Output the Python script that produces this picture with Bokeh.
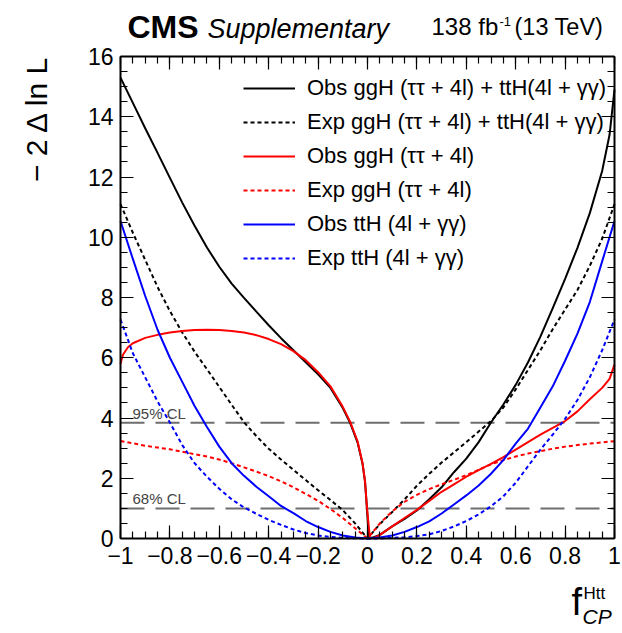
import numpy as np
from bokeh.plotting import figure
from bokeh.models import Range1d, LinearAxis, FixedTicker, Label, Legend, LegendItem
from bokeh.embed import file_html
from bokeh.resources import INLINE

# ---------------- data ----------------
xs = [-1.0, -0.95, -0.9, -0.85, -0.8, -0.75, -0.7, -0.65, -0.6, -0.55, -0.5,
      -0.45, -0.4, -0.35, -0.3, -0.25, -0.2, -0.15, -0.1, -0.05, 0.0,
      0.05, 0.1, 0.15, 0.2, 0.25, 0.3, 0.35, 0.4, 0.45, 0.5,
      0.55, 0.6, 0.65, 0.7, 0.75, 0.8, 0.85, 0.9, 0.95, 1.0]

exp_comb_y = [11.1, 10.15, 9.25, 8.35, 7.55, 6.84, 6.2, 5.62, 5.03, 4.44, 3.86,
              3.4, 2.98, 2.62, 2.28, 1.94, 1.6, 1.28, 0.94, 0.5, 0.0,
              0.48, 0.88, 1.3, 1.75, 2.15, 2.52, 2.86, 3.2, 3.55, 3.9,
              4.35, 4.95, 5.6, 6.25, 6.95, 7.6, 8.25, 9.05, 9.95, 11.1]

exp_ggh_y = [3.24, 3.16, 3.08, 3.02, 2.96, 2.88, 2.8, 2.72, 2.62, 2.5, 2.36,
             2.22, 2.07, 1.9, 1.7, 1.48, 1.25, 0.98, 0.68, 0.34, 0.0,
             0.5, 0.9, 1.22, 1.45, 1.64, 1.8, 1.95, 2.1, 2.28, 2.46,
             2.6, 2.72, 2.82, 2.9, 2.98, 3.05, 3.1, 3.15, 3.19, 3.23]

obs_tth_y = [10.54, 9.28, 8.05, 6.93, 6.0, 5.2, 4.4, 3.7, 3.05, 2.5, 2.08,
             1.72, 1.4, 1.08, 0.84, 0.58, 0.38, 0.22, 0.1, 0.03, 0.0,
             0.03, 0.1, 0.22, 0.38, 0.57, 0.83, 1.13, 1.43, 1.76, 2.15,
             2.6, 3.15, 3.65, 4.35, 5.05, 5.9, 6.8, 7.85, 9.2, 10.54]

exp_tth_y = [7.27, 6.15, 5.35, 4.55, 3.85, 3.1, 2.5, 2.05, 1.65, 1.3, 1.03,
             0.82, 0.62, 0.45, 0.3, 0.18, 0.1, 0.05, 0.02, 0.005, 0.0,
             0.0, 0.02, 0.04, 0.08, 0.14, 0.25, 0.4, 0.58, 0.8, 1.07,
             1.4, 1.85, 2.4, 2.95, 3.45, 3.97, 4.6, 5.35, 6.25, 7.27]

obs_comb_x = [-1.0, -0.95, -0.9, -0.85, -0.8, -0.75, -0.7, -0.65, -0.6, -0.55, -0.5,
              -0.45, -0.4, -0.35, -0.3, -0.25, -0.2, -0.15, -0.1, -0.07, -0.04,
              -0.02, -0.01, -0.003, 0.005, 0.02, 0.05, 0.1, 0.15, 0.2, 0.25,
              0.3, 0.35, 0.4, 0.45, 0.5, 0.55, 0.6, 0.65, 0.7, 0.75,
              0.8, 0.85, 0.9, 0.95, 0.98, 1.0]
obs_comb_y = [15.3, 14.46, 13.62, 12.8, 11.97, 11.15, 10.38, 9.66, 9.02, 8.46, 7.99,
              7.53, 7.08, 6.65, 6.25, 5.85, 5.45, 5.0, 4.33, 3.83, 3.18,
              2.48, 1.88, 1.1, 0.0, 0.03, 0.12, 0.4, 0.65, 0.93, 1.3,
              1.7, 2.2, 2.65, 3.2, 3.85, 4.45, 5.1, 5.85, 6.7, 7.65,
              8.62, 9.65, 10.8, 12.2, 13.4, 14.9]

obs_ggh_x = [-1.0, -0.99, -0.97, -0.95, -0.9, -0.85, -0.8, -0.75, -0.7, -0.65, -0.6,
             -0.55, -0.5, -0.45, -0.4, -0.35, -0.3, -0.25, -0.2, -0.15, -0.1,
             -0.07, -0.04, -0.02, -0.01, -0.003, 0.01, 0.03, 0.05, 0.1, 0.15,
             0.2, 0.25, 0.3, 0.35, 0.4, 0.45, 0.5, 0.55, 0.6, 0.65,
             0.7, 0.75, 0.8, 0.85, 0.9, 0.95, 0.98, 1.0]
obs_ggh_y = [5.8, 6.1, 6.35, 6.48, 6.66, 6.76, 6.84, 6.89, 6.92, 6.93, 6.92,
             6.89, 6.84, 6.75, 6.62, 6.45, 6.22, 5.92, 5.52, 5.05, 4.37,
             3.87, 3.22, 2.5, 1.9, 1.1, 0.0, 0.03, 0.12, 0.4, 0.68,
             0.95, 1.25, 1.55, 1.8, 2.05, 2.27, 2.48, 2.7, 2.95, 3.2,
             3.45, 3.67, 3.9, 4.22, 4.62, 5.0, 5.3, 5.77]

cl_levels = [1.0, 3.84]
cl_labels = ["68% CL", "95% CL"]

legend_labels = ["Obs ggH (\u03c4\u03c4 + 4l) + ttH(4l + \u03b3\u03b3)",
                 "Exp ggH (\u03c4\u03c4 + 4l) + ttH(4l + \u03b3\u03b3)",
                 "Obs ggH (\u03c4\u03c4 + 4l)",
                 "Exp ggH (\u03c4\u03c4 + 4l)",
                 "Obs ttH (4l + \u03b3\u03b3)",
                 "Exp ttH (4l + \u03b3\u03b3)"]

x_ticks = [-1.0, -0.8, -0.6, -0.4, -0.2, 0.0, 0.2, 0.4, 0.6, 0.8, 1.0]
x_tick_labels = ["\u22121", "\u22120.8", "\u22120.6", "\u22120.4", "\u22120.2", "0",
                 "0.2", "0.4", "0.6", "0.8", "1"]
y_ticks = [0, 2, 4, 6, 8, 10, 12, 14, 16]
y_tick_labels = ["0", "2", "4", "6", "8", "10", "12", "14", "16"]

# ---------------- layout geometry (canvas pixels) ----------------
FONT = "Liberation Sans"
W, H = 622, 633
FL, FR, FT, FB = 120, 614, 56, 538          # plot box edges in canvas px
XMIN, XMAX, YMIN, YMAX = x_ticks[0], x_ticks[-1], y_ticks[0], y_ticks[-1]
sx = (FR - FL) / (XMAX - XMIN)
sy = (FB - FT) / (YMAX - YMIN)

# the frame covers the whole canvas; ranges chosen so that the box sits at FL..FR, FT..FB
p = figure(width=W, height=H,
           x_range=Range1d(XMIN - FL / sx, XMAX + (W - FR) / sx),
           y_range=Range1d(YMIN - (H - FB) / sy, YMAX + FT / sy),
           output_backend="svg", toolbar_location=None,
           min_border_left=0, min_border_right=0, min_border_top=0, min_border_bottom=0)
p.title.visible = False
p.xgrid.visible = False
p.ygrid.visible = False
p.outline_line_color = None
p.background_fill_color = "white"
p.border_fill_color = "white"


def px2x(px):
    return XMIN + (px - FL) / sx


def px2y(py):
    return YMIN + (FB - py) / sy


x_minor = list(np.round(np.arange(XMIN, XMAX + 1e-4, 0.05), 3))
y_minor = list(np.arange(YMIN, YMAX + 1e-4, 0.5))


def style(ax, ticks, minor, labels, show, loc, bounds):
    ax.fixed_location = loc
    ax.bounds = bounds
    ax.ticker = FixedTicker(ticks=ticks, minor_ticks=minor)
    ax.major_tick_in = 13
    ax.major_tick_out = 0
    ax.minor_tick_in = 7
    ax.minor_tick_out = 0
    ax.major_tick_line_color = "black"
    ax.minor_tick_line_color = "black"
    ax.major_tick_line_width = 1.2
    ax.minor_tick_line_width = 1.2
    ax.axis_line_color = "black"
    ax.axis_line_width = 2
    if show:
        ax.major_label_overrides = {t: l for t, l in zip(ticks, labels)}
        ax.major_label_text_font = FONT
        ax.major_label_text_color = "black"
        ax.major_label_text_font_size = "23px"
    else:
        ax.major_label_text_font_size = "0px"
        ax.major_label_text_alpha = 0


xa = p.xaxis[0]
ya = p.yaxis[0]
style(xa, x_ticks, x_minor, x_tick_labels, True, YMIN, (XMIN, XMAX))
xa.major_label_standoff = 8
style(ya, y_ticks, y_minor, y_tick_labels, True, XMIN, (YMIN, YMAX))
ya.major_label_standoff = 7

top = LinearAxis()
style(top, x_ticks, x_minor, x_tick_labels, False, YMAX, (XMIN, XMAX))
p.add_layout(top, "above")
right = LinearAxis()
style(right, y_ticks, y_minor, y_tick_labels, False, XMAX, (YMIN, YMAX))
p.add_layout(right, "right")

# CL reference lines
p.segment(x0=XMIN, x1=XMAX, y0=cl_levels, y1=cl_levels, line_color="#6e6e6e",
          line_width=2, line_dash="24 11")
for lev, lab in zip(cl_levels, cl_labels):
    p.add_layout(Label(x=px2x(132), y=lev, y_offset=1, text=lab, text_font=FONT,
                       text_font_size="15px", text_color="#444444",
                       text_baseline="bottom", text_align="left"))

# curves
r1 = p.line(obs_comb_x, obs_comb_y, line_color="black", line_width=2)
r2 = p.line(xs, exp_comb_y, line_color="black", line_width=2, line_dash="4 3")
r3 = p.line(obs_ggh_x, obs_ggh_y, line_color="#ff0000", line_width=2)
r4 = p.line(xs, exp_ggh_y, line_color="#ff0000", line_width=2, line_dash="4 3")
r5 = p.line(xs, obs_tth_y, line_color="#0000ff", line_width=2)
r6 = p.line(xs, exp_tth_y, line_color="#0000ff", line_width=2, line_dash="4 3")

items = [LegendItem(label=l, renderers=[r]) for l, r in zip(legend_labels, [r1, r2, r3, r4, r5, r6])]
leg = Legend(items=items, location=(243, 362), label_text_font=FONT, label_text_font_size="22px",
             label_text_color="black", glyph_width=52, glyph_height=22, label_height=22,
             spacing=8, label_standoff=12, padding=0, margin=0,
             border_line_alpha=0, background_fill_alpha=0)
p.add_layout(leg)


def tlabel(px, py, text, size, style="normal", align="left", angle=0.0, baseline="alphabetic"):
    # py is the wanted baseline in canvas px; the renderer draws about a third of the size lower
    if baseline == "alphabetic":
        py = py - 0.33 * size
    p.add_layout(Label(x=px2x(px), y=px2y(py), text=text, text_font=FONT,
                       text_font_size=f"{size}px", text_font_style=style, text_align=align,
                       text_baseline=baseline, angle=angle, text_color="black"))


tlabel(127, 37, "CMS", 32, "bold")
tlabel(207, 37, "Supplementary", 27, "italic")
tlabel(431, 34, "138 fb", 24)
tlabel(499, 25, "-1", 13)
tlabel(514, 34, "(13 TeV)", 23.5)
tlabel(36, 54, "\u2212 2 \u0394 ln L", 30, align="right", angle=np.pi / 2, baseline="middle")
tlabel(571, 614, "f", 38)
tlabel(583, 599, "Htt", 17)
tlabel(582, 623, "CP", 21, "italic")

open("out.html", "w").write(file_html(p, INLINE))
